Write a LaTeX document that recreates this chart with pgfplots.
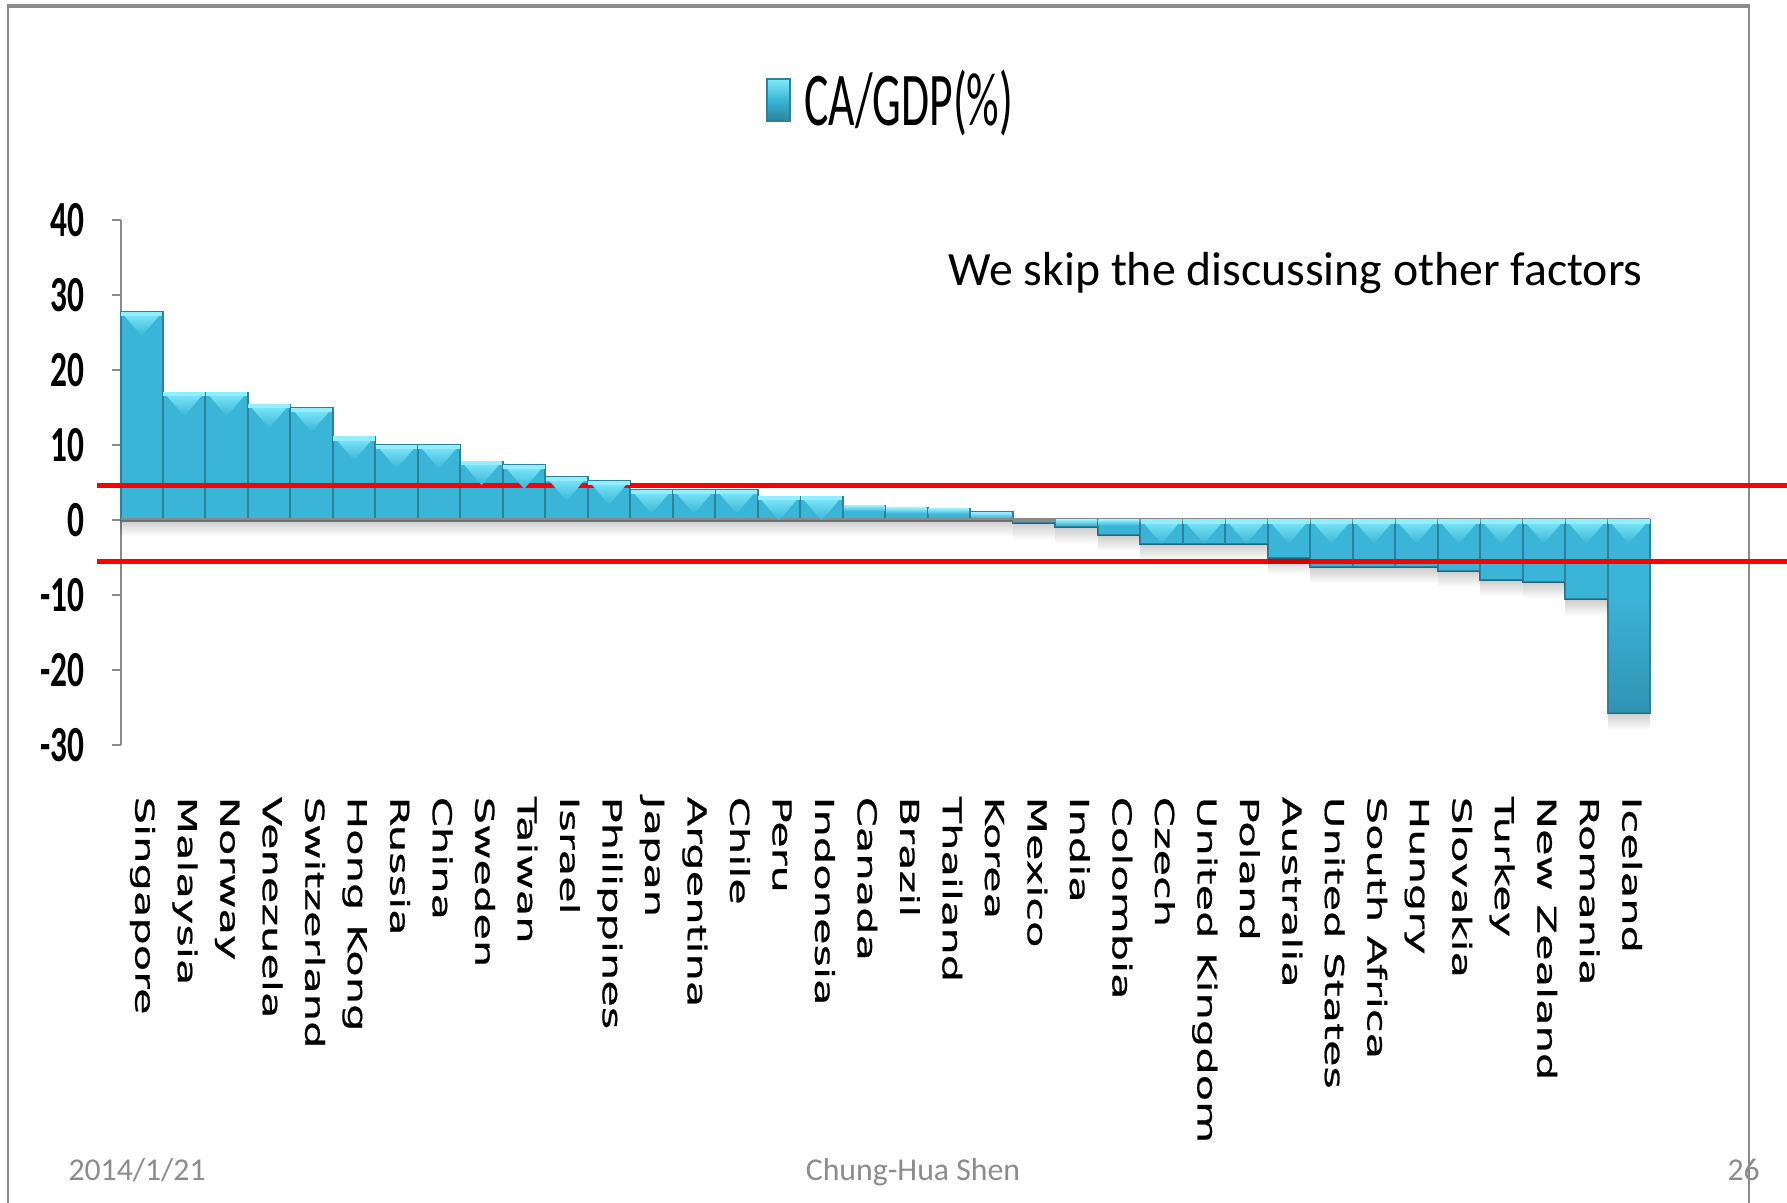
\documentclass[border=0pt]{standalone}
\usepackage{fontspec}
\usepackage{pgfplots}
\usepackage{pgfplotstable}
\usetikzlibrary{fadings}
\pgfplotsset{compat=1.18}
\setmainfont{Carlito}
\newfontfamily\tickfont[FakeStretch=0.66]{Carlito Bold}
\newfontfamily\titlefont[FakeStretch=0.6]{Carlito}
\newfontfamily\catfont[FakeStretch=1.66, FakeBold=0.8]{DejaVu Sans}

\definecolor{barTop}{HTML}{80EAFB}
\definecolor{barMid}{HTML}{3BB5D7}
\definecolor{barLow}{HTML}{3192B3}
\definecolor{barEdge}{HTML}{2C819D}
\definecolor{axisgray}{HTML}{8A8A8A}
\definecolor{framegray}{HTML}{8C8C8C}
\definecolor{footgray}{HTML}{8C8C8C}

% body of each bar: a little darker towards its lower end
\pgfdeclareverticalshading{barshade}{100bp}{color(0bp)=(barLow); color(25bp)=(barLow); color(40bp)=(barMid); color(75bp)=(barMid); color(100bp)=(barMid)}

% bevelled cap drawn at the upper end of each bar
\pgfdeclareplotmark{bevel}{%
  \shade[draw=none, top color=barTop, bottom color=barMid]
    (-8.1pt,0pt) -- (8.1pt,0pt) -- (0pt,-9.5pt) -- cycle;
  \fill[barTop!85!white] (-8.1pt,-1.3pt) rectangle (8.1pt,0pt);}
% thin light cap for the short bars
\pgfdeclareplotmark{cap}{%
  \shade[draw=none, top color=barTop!85!white, bottom color=barMid]
    (-8.1pt,-2.2pt) rectangle (8.1pt,0pt);}
% soft shadow under the lower end of each bar
\pgfdeclareplotmark{shadow}{%
  \fill[draw=none, black, opacity=0.2, path fading=south]
    (-8.5pt,-6.5pt) rectangle (8.5pt,0pt);}

% current account balance in % of GDP
% bev/cap = upper end of the bar, low = lower end of the bar (nan: not used)
\pgfplotstableread{
x  ca     bev    cap    low
0  27.7   27.7   nan    0
1  17.0   17.0   nan    0
2  17.0   17.0   nan    0
3  15.4   15.4   nan    0
4  14.9   14.9   nan    0
5  11.1   11.1   nan    0
6  10.0   10.0   nan    0
7  10.0   10.0   nan    0
8  7.8    7.8    nan    0
9  7.3    7.3    nan    0
10 5.7    5.7    nan    0
11 5.2    5.2    nan    0
12 4.0    4.0    nan    0
13 4.0    4.0    nan    0
14 4.0    4.0    nan    0
15 3.1    3.1    nan    0
16 3.1    3.1    nan    0
17 1.9    nan    1.9    0
18 1.6    nan    1.6    0
19 1.5    nan    1.5    0
20 1.0    nan    1.0    0
21 -0.45  nan    nan    -0.45
22 -1.0   nan    0      -1.0
23 -2.0   nan    0      -2.0
24 -3.2   0      nan    -3.2
25 -3.2   0      nan    -3.2
26 -3.2   0      nan    -3.2
27 -5.1   0      nan    -5.1
28 -6.3   0      nan    -6.3
29 -6.3   0      nan    -6.3
30 -6.3   0      nan    -6.3
31 -6.8   0      nan    -6.8
32 -8.0   0      nan    -8.0
33 -8.3   0      nan    -8.3
34 -10.6  0      nan    -10.6
35 -25.8  0      nan    -25.8
}\cadata

\begin{document}
\begin{tikzpicture}
\useasboundingbox (0pt,0pt) rectangle (714.8pt,481.2pt);
% slide frame
\draw[framegray, line width=1.5pt] (2.8pt,478.8pt) -- (700pt,478.8pt);
\draw[framegray, line width=1pt] (3.2pt,0pt) -- (3.2pt,478.8pt);
\draw[framegray, line width=0.9pt] (699.6pt,0pt) -- (699.6pt,478.8pt);

\begin{axis}[
  at={(48.2pt,183.2pt)}, anchor=south west,
  width=611.8pt, height=210pt, scale only axis,
  xmin=-0.5, xmax=35.5, ymin=-30, ymax=40,
  clip=false, clip mode=global,
  axis y line*=left, axis x line*=bottom,
  x axis line style={draw=none},
  y axis line style={axisgray, line width=0.8pt},
  ytick={-30,-20,-10,0,10,20,30,40},
  yticklabels={-30,-20,-10,0,10,20,30,40},
  ytick align=outside,
  major tick length=3.6pt,
  y tick style={axisgray, line width=0.8pt},
  yticklabel style={font=\tickfont\fontsize{20.2}{22}\selectfont, anchor=east, inner sep=0pt, xshift=-10.5pt},
  xtick={0,...,35},
  x tick style={draw=none},
  xticklabels={Singapore,Malaysia,Norway,Venezuela,Switzerland,Hong Kong,Russia,China,Sweden,Taiwan,Israel,Philippines,Japan,Argentina,Chile,Peru,Indonesia,Canada,Brazil,Thailand,Korea,Mexico,India,Colombia,Czech,United Kingdom,Poland,Australia,United States,South Africa,Hungry,Slovakia,Turkey,New Zealand,Romania,Iceland},
  xticklabel style={font=\catfont\fontsize{10.4}{12}\selectfont, rotate=-90, anchor=west, inner sep=0pt, text height=7.6pt, text depth=2.5pt, xshift=20.5pt},
  legend style={at={(0.5046,1.2286)}, anchor=center, draw=none, fill=none,
    font=\titlefont\fontsize{30.4}{34}\selectfont, inner sep=0pt},
  legend cell align=left,
]
% shadows first, so that the bars cover them
\addplot[only marks, mark=shadow, forget plot, unbounded coords=discard]
  table[x=x, y=low] {\cadata};
\addplot[ybar, bar width=1, shading=barshade, draw=barEdge, line width=0.8pt,
  legend image code/.code={\shade[top color=barTop, bottom color=barEdge, middle color=barMid] (0pt,-8.4pt) rectangle (9.2pt,8.4pt);\path (12.5pt,0pt);}]
  table[x=x, y=ca] {\cadata};
\addlegendentry{CA/GDP(\%)}
\addplot[only marks, mark=bevel, forget plot, unbounded coords=discard]
  table[x=x, y=bev] {\cadata};
\addplot[only marks, mark=cap, forget plot, unbounded coords=discard]
  table[x=x, y=cap] {\cadata};
% horizontal axis at zero
\addplot[axisgray, line width=1.4pt, forget plot] coordinates {(-0.5,0) (35.5,0)};
% the two bands
\addplot[red, line width=2pt, forget plot] coordinates {(-1.053,4.6) (38.8,4.6)};
\addplot[red, line width=2pt, forget plot] coordinates {(-1.053,-5.55) (38.8,-5.55)};
\end{axis}

\node[anchor=base west, inner sep=0pt, font=\fontsize{19.1}{23}\selectfont] at (379.2pt,366.8pt) {We skip the discussing other factors};

% footer
\begin{scope}[footgray, font=\fontsize{12.7}{15}\selectfont]
\node[anchor=base west, inner sep=0pt] at (27.2pt,8.8pt) {2014/1/21};
\node[anchor=base, inner sep=0pt] at (365.2pt,8.8pt) {Chung-Hua Shen};
\node[anchor=base west, inner sep=0pt] at (690.8pt,8.8pt) {26};
\end{scope}
\end{tikzpicture}
\end{document}
